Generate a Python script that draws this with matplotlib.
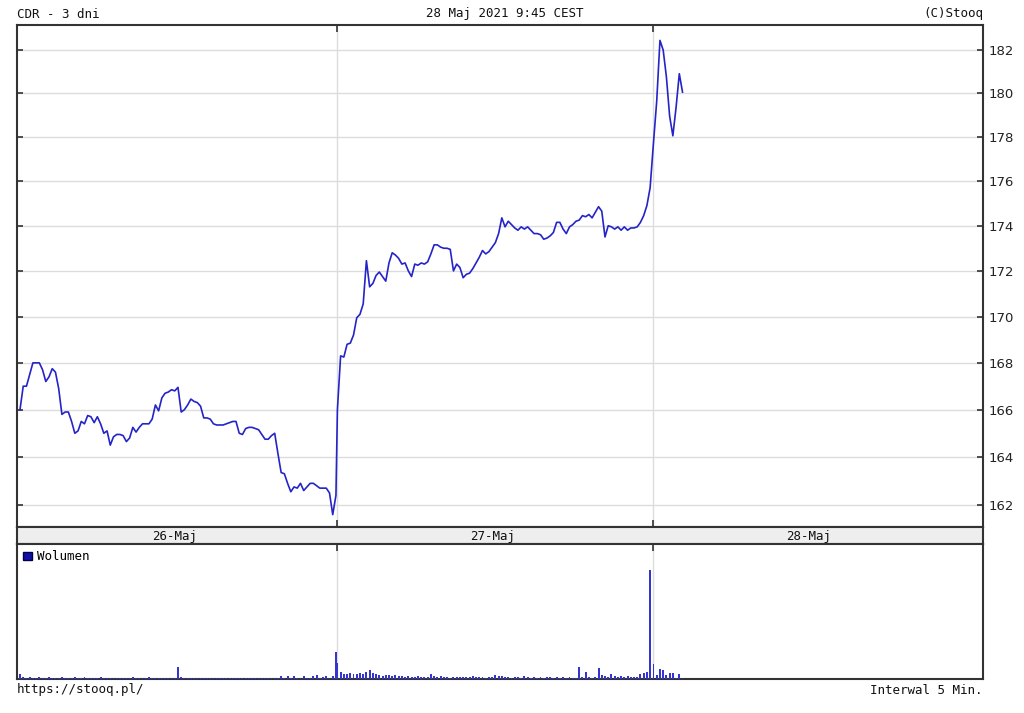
import numpy as np
import matplotlib
matplotlib.use("Agg")
import matplotlib.pyplot as plt
from matplotlib.patches import Patch
from matplotlib.ticker import FixedLocator, FixedFormatter, NullLocator

# CDR, 5-min bars, 3 sessions (26-28 Maj 2021)
price_d1 = [166.0, 167.0, 167.0, 167.5, 168.0, 168.0, 168.0, 167.7, 167.2, 167.4,
            167.75, 167.6, 166.9, 165.8, 165.9, 165.9, 165.5, 165.0, 165.1, 165.5,
            165.4, 165.75, 165.7, 165.45, 165.7, 165.4, 165.0, 165.1, 164.5, 164.85,
            164.95, 164.95, 164.9, 164.65, 164.8, 165.25, 165.05, 165.25, 165.4, 165.4,
            165.4, 165.6, 166.2, 165.95, 166.5, 166.7, 166.75, 166.85, 166.8, 166.95,
            165.9, 166.0, 166.2, 166.45, 166.35, 166.3, 166.15, 165.65, 165.65, 165.6,
            165.4, 165.35, 165.35, 165.35, 165.4, 165.45, 165.5, 165.5, 165.0, 164.95,
            165.2, 165.25, 165.25, 165.2, 165.15, 164.95, 164.75, 164.75, 164.9, 165.0,
            164.15, 163.35, 163.3, 162.9, 162.55, 162.75, 162.7, 162.9, 162.6, 162.75,
            162.9, 162.9, 162.8, 162.7, 162.7, 162.7, 162.5, 161.6, 162.4]
price_d2 = [166.0, 168.3, 168.25, 168.8, 168.85, 169.2, 169.95, 170.1, 170.55, 172.45,
            171.3, 171.45, 171.8, 171.95, 171.75, 171.55, 172.35, 172.8, 172.7, 172.55,
            172.3, 172.35, 172.0, 171.75, 172.3, 172.25, 172.35, 172.3, 172.4, 172.75,
            173.15, 173.15, 173.05, 173.0, 173.0, 172.95, 172.0, 172.3, 172.15, 171.7,
            171.85, 171.9, 172.1, 172.35, 172.6, 172.9, 172.75, 172.85, 173.05, 173.25,
            173.65, 174.35, 173.95, 174.2, 174.05, 173.9, 173.8, 173.95, 173.85, 173.95,
            173.8, 173.65, 173.65, 173.6, 173.4, 173.45, 173.55, 173.7, 174.15, 174.15,
            173.85, 173.65, 173.95, 174.05, 174.2, 174.25, 174.45, 174.4, 174.5, 174.35,
            174.6, 174.85, 174.65, 173.5, 174.0, 173.95, 173.85, 173.95, 173.8, 173.95,
            173.8, 173.9, 173.9, 173.95, 174.15, 174.45, 174.9, 175.7]
price_d3 = [177.75, 179.65, 182.45, 182.0, 180.75, 178.95, 178.05, 179.35, 180.9, 180.05]

# volume (relative units)
vol_d1 = [5.5, 2, 1.5, 2, 1.5, 1, 2, 1.5, 1, 2,
          1.5, 1, 1.5, 2, 1, 1.5, 1, 2.5, 1.5, 1,
          2, 1.5, 1, 1, 1.5, 2, 1, 1.5, 1, 1.5,
          1, 1.5, 1, 1.5, 1, 2, 1, 1.5, 1, 1.5,
          2.5, 1.5, 1, 1.5, 1, 1.5, 1, 1, 1.5, 12.5,
          2, 1.5, 1, 1, 1.5, 1, 1, 1.5, 1, 1,
          1.5, 1, 1, 1.5, 1, 1, 1.5, 1, 1.5, 1,
          1, 1.5, 1, 1.5, 1, 1, 1.5, 1, 1.5, 1,
          1, 3, 1.5, 3.5, 1.5, 3, 1.5, 1, 3, 1.5,
          1, 3, 4, 1.5, 2.5, 3, 1.5, 3.5, 27]
vol_d2 = [16, 7.5, 5.5, 5, 6, 5, 5.5, 6, 5, 7,
          9, 6.5, 5.5, 4.5, 3.5, 4, 4.5, 3, 4.5, 3,
          3.5, 2.5, 3, 2.5, 2, 3, 2, 2.5, 2, 5.5,
          3, 2, 3, 2, 2.5, 1.5, 2, 2.5, 2, 2.5,
          2, 2.5, 3, 2, 2.5, 2, 1.5, 2, 2.5, 4.5,
          3.5, 3, 2.5, 2, 1.5, 2, 2.5, 1.5, 3, 2,
          1.5, 2, 1.5, 2, 1.5, 2, 2.5, 1.5, 2, 1.5,
          2.5, 1.5, 2, 1, 1.5, 12, 2, 7, 2.5, 1.5,
          2.5, 11, 4, 3.5, 2, 5.5, 3, 2, 3, 2.5,
          3, 2, 2.5, 2, 5.5, 6.5, 7, 110]
vol_d3 = [15, 4, 10, 9, 4, 6, 6, 1.5, 5, 1]

day_labels = ["26-Maj", "27-Maj", "28-Maj"]
y_ticks = [162, 164, 166, 168, 170, 172, 174, 176, 178, 180, 182]

title_left = "CDR - 3 dni"
title_mid = "28 Maj 2021 9:45 CEST"
title_right = "(C)Stooq"
foot_left = "https://stooq.pl/"
foot_right = "Interwal 5 Min."

day_start = [0.0, 98.45, 196.5]
day_bounds = [98.3, 196.3]
xlim = (-0.93, 298.7)

line_col = "#2424c8"
bar_col = "#3434d0"
spine_col = "#333333"
grid_col = "#dcdcdc"
mono = "DejaVu Sans Mono"

prices = [price_d1, price_d2, price_d3]
vols = [vol_d1, vol_d2, vol_d3]
x_price = np.concatenate([s + np.arange(len(p)) for s, p in zip(day_start, prices)])
y_price = np.concatenate(prices)
x_vol = np.concatenate([s + np.arange(len(v)) for s, v in zip(day_start, vols)])
y_vol = np.concatenate(vols)

W, H = 1024, 713
fig = plt.figure(figsize=(W / 100, H / 100), dpi=100)


def box(l, t, r, b):
    return [l / W, 1 - b / H, (r - l) / W, (b - t) / H]


ax = fig.add_axes(box(17, 25, 983, 527))
ax_d = fig.add_axes(box(17, 527, 983, 544))
ax_v = fig.add_axes(box(17, 544, 983, 679))

# price panel
ax.plot(x_price, y_price, color=line_col, lw=1.2, zorder=3)
ax.set_yscale("log")
ax.set_ylim(161.09, 183.17)
ax.set_xlim(*xlim)
ax.yaxis.set_major_locator(FixedLocator(y_ticks))
ax.yaxis.set_major_formatter(FixedFormatter([str(v) for v in y_ticks]))
ax.yaxis.set_minor_locator(NullLocator())
ax.tick_params(axis="y", which="major", left=True, right=True, direction="in",
               labelleft=False, labelright=True, length=4, width=1.2,
               color=spine_col, labelsize=9.5, pad=4, labelcolor="#222222")
ax.set_xticks(day_bounds)
ax.tick_params(axis="x", top=True, bottom=True, direction="in", length=5,
               width=1.2, color=spine_col, labelbottom=False)
for v in y_ticks:
    ax.axhline(v, color=grid_col, lw=1, zorder=1)
for b in day_bounds:
    ax.axvline(b, color=grid_col, lw=1, zorder=1)

# date strip
ax_d.set_facecolor("#eeeeee")
ax_d.set_xlim(*xlim)
ax_d.set_ylim(0, 1)
ax_d.set_xticks([])
ax_d.set_yticks([])
for s, lab in zip(day_start, day_labels):
    ax_d.text(s + 48.0, 0.45, lab, ha="center", va="center",
              family=mono, fontsize=9, color="#111111")

# volume panel
ax_v.bar(x_vol, y_vol, width=0.6, color=bar_col, linewidth=0, zorder=3)
ax_v.set_xlim(*xlim)
ax_v.set_ylim(0, 136)
ax_v.set_yticks([])
ax_v.set_xticks(day_bounds)
ax_v.tick_params(axis="x", top=True, bottom=False, direction="in", length=5,
                 width=1.2, color=spine_col, labelbottom=False)
for b in day_bounds:
    ax_v.axvline(b, color=grid_col, lw=1, zorder=1)
handle = Patch(facecolor="#1010a8", edgecolor="#000044", label="Wolumen")
ax_v.legend(handles=[handle], loc="upper left", frameon=False,
            handlelength=0.7, handleheight=0.7, handletextpad=0.4,
            borderaxespad=0.2, borderpad=0.3, prop={"family": mono, "size": 9})

for a in (ax, ax_d, ax_v):
    for sp in a.spines.values():
        sp.set_color(spine_col)
        sp.set_linewidth(1.5)

# header / footer
fig.text(17 / W, 1 - 14 / H, title_left, family=mono, fontsize=9,
         ha="left", va="center", color="#111111")
fig.text(505 / W, 1 - 14 / H, title_mid, family=mono, fontsize=9,
         ha="center", va="center", color="#111111")
fig.text(983 / W, 1 - 14 / H, title_right, family=mono, fontsize=9,
         ha="right", va="center", color="#111111")
fig.text(17 / W, 1 - 690 / H, foot_left, family=mono, fontsize=9,
         ha="left", va="center", color="#111111")
fig.text(982 / W, 1 - 691 / H, foot_right, family=mono, fontsize=9,
         ha="right", va="center", color="#111111")

fig.savefig("out.png", dpi=100, facecolor="white")
